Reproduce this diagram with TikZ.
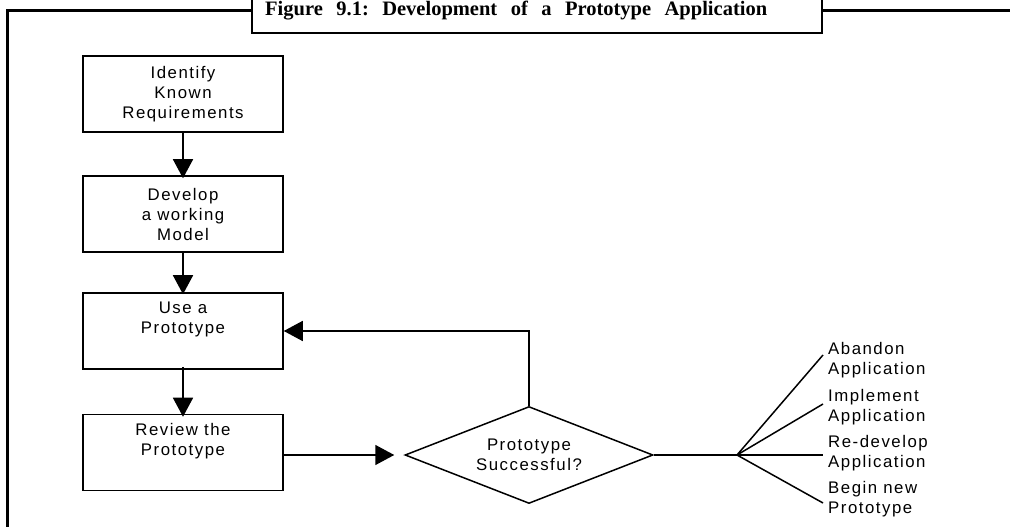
\documentclass[tikz,border=0pt]{standalone}
\usepackage{fontspec}
\setmainfont{Liberation Serif}
\newfontfamily\boxfont[LetterSpace=9]{Liberation Sans}
\usetikzlibrary{shapes.geometric,arrows.meta}
\begin{document}
\begin{tikzpicture}[x=1bp,y=-1bp,
  every node/.style={font=\boxfont\fontsize{16.8bp}{20bp}\selectfont},
  stepbox/.style={draw,line width=1.5bp,minimum width=200bp,minimum height=76bp,inner sep=0pt,align=center},
  decision/.style={draw,diamond,line width=1.5bp,minimum width=248bp,minimum height=97bp,aspect=2.56,inner sep=0pt,align=center},
  conn/.style={line width=1.5bp},
  arr/.style={conn,-{Triangle[length=19bp,width=20bp]}},
  lbl/.style={anchor=north west,inner sep=0pt,align=left},
  frame/.style={line width=2.2bp},
]
\useasboundingbox (0,0) rectangle (1010,527);
\clip (0,0) rectangle (1010,527);
% outer frame
\draw[frame] (7.5,540) -- (7.5,10.5) -- (1020,10.5);
\node[draw,fill=white,line width=1.6bp,minimum width=570bp,minimum height=50bp,anchor=south,inner sep=0pt] (title) at (537,34) {};
\node[anchor=base west,inner sep=0pt,font=\fontsize{20.5bp}{22bp}\selectfont\bfseries\frenchspacing] (titletext) at (265,16)
  {\makebox[502bp][s]{Figure 9.1: Development of a Prototype Application}};
% boxes
\node[stepbox] (b1) at (183,94) {Identify\\Known\\Requirements};
\node[stepbox] (b2) at (183,214) {Develop\\a working\\Model};
\node[stepbox] (b3) at (183,331) {Use a\\Prototype\\\strut};
\node[stepbox] (b4) at (183,452.5) {Review the\\Prototype\\\strut};
\node[decision] (d) at (529,455) {Prototype\\Successful?};
% arrows
\draw[arr] (b1.south) -- ([yshift=-3bp]b2.north);
\draw[arr] (b2.south) -- ([yshift=-2bp]b3.north);
\draw[arr] ([yshift=3bp]b3.south) -- ([yshift=-3bp]b4.north);
\draw[arr] (b4.east |- d.west) -- ([xshift=-10bp]d.west);
\draw[arr] (d.north) -- (d.north |- b3.east) -- (b3.east);
% outcomes
\coordinate (fan) at (737,455);
\coordinate (e1) at (823,355);
\coordinate (e2) at (823,404);
\coordinate (e3) at (823,455);
\coordinate (e4) at (823,503);
\draw[conn] (d.east) -- (fan);
\draw[conn] (fan) -- (e1);
\draw[conn] (fan) -- (e2);
\draw[conn] (fan) -- (e3);
\draw[conn] (fan) -- (e4);
\node[lbl] (l1) at (828,342) {Abandon\\Application};
\node[lbl] (l2) at (828,389) {Implement\\Application};
\node[lbl] (l3) at (828,435) {Re-develop\\Application};
\node[lbl] (l4) at (828,481) {Begin new\\Prototype};
\end{tikzpicture}
\end{document}
